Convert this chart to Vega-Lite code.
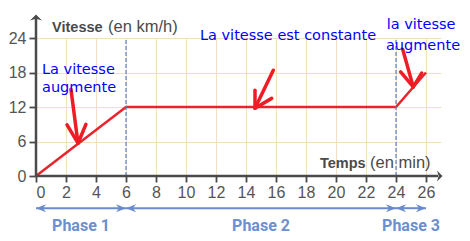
{
  "$schema": "https://vega.github.io/schema/vega-lite/v6.json",
  "width": 405,
  "height": 138,
  "autosize": "none",
  "padding": {"left": 36, "top": 38, "right": 29, "bottom": 65},
  "background": "white",
  "config": {"view": {"stroke": null}},
  "datasets": {
    "speed": [{"t": 0, "v": 0}, {"t": 6, "v": 12}, {"t": 24, "v": 12}, {"t": 26, "v": 18}],
    "bounds": [{"t": 6}, {"t": 24}],
    "arrows": [
      {"x": 2.33, "y": 15.1, "x2": 2.8, "y2": 5.7},
      {"x": 2.07, "y": 8.9, "x2": 2.8, "y2": 5.7},
      {"x": 3.33, "y": 9.0, "x2": 2.8, "y2": 5.7},
      {"x": 15.82, "y": 18.4, "x2": 14.6, "y2": 11.8},
      {"x": 14.6, "y": 14.9, "x2": 14.6, "y2": 11.8},
      {"x": 15.71, "y": 13.5, "x2": 14.6, "y2": 11.8},
      {"x": 24.45, "y": 22.0, "x2": 25.15, "y2": 15.5},
      {"x": 24.31, "y": 18.1, "x2": 25.15, "y2": 15.5},
      {"x": 25.71, "y": 17.9, "x2": 25.15, "y2": 15.5}
    ],
    "notes": [
      {"text": "La vitesse", "x": 0.4, "y": 17.74},
      {"text": "augmente", "x": 0.4, "y": 14.6},
      {"text": "La vitesse est constante", "x": 10.93, "y": 23.6},
      {"text": "la vitesse", "x": 23.38, "y": 25.5},
      {"text": "augmente", "x": 23.33, "y": 21.9}
    ],
    "titles": [
      {"text": "Vitesse", "part": "name", "x": 1.07, "y": 25.04},
      {"text": "(en km/h)", "part": "unit", "x": 4.8, "y": 25.04},
      {"text": "Temps", "part": "name", "x": 18.93, "y": 1.45},
      {"text": "(en min)", "part": "unit", "x": 22.27, "y": 1.45}
    ],
    "phases": [
      {"label": "Phase 1", "start": 0, "end": 6, "mid": 3},
      {"label": "Phase 2", "start": 6, "end": 24, "mid": 15},
      {"label": "Phase 3", "start": 24, "end": 26, "mid": 25}
    ]
  },
  "layer": [
    {
      "data": {"name": "speed"},
      "mark": {"type": "line", "color": "#e6262d", "strokeWidth": 2.5},
      "encoding": {
        "x": {"field": "t", "type": "quantitative", "scale": {"domain": [0, 27]},
          "axis": {"values": [0, 2, 4, 6, 8, 10, 12, 14, 16, 18, 20, 22, 24, 26], "tickCount": 40, "format": "d", "title": null, "domain": false, "labelOverlap": false,
            "grid": true, "gridColor": "#f2e0c0", "gridWidth": 1, "tickColor": "#4a4a4a", "tickSize": 6, "tickWidth": 1.8,
            "labelFont": "Liberation Sans", "labelFontSize": 16, "labelColor": "#555555", "labelPadding": 2}},
        "y": {"field": "v", "type": "quantitative", "scale": {"domain": [0, 24]},
          "axis": {"values": [0, 6, 12, 18, 24], "tickCount": 40, "format": "d", "title": null, "domain": false, "labelOverlap": false,
            "grid": true, "gridColor": "#f2e0c0", "gridWidth": 1, "tickColor": "#4a4a4a", "tickSize": 7, "tickWidth": 1.8,
            "labelFont": "Liberation Sans", "labelFontSize": 16, "labelColor": "#555555", "labelPadding": 3}}
      }
    },
    {
      "data": {"name": "bounds"},
      "mark": {"type": "rule", "color": "#5b7fc4", "strokeWidth": 1.2, "strokeDash": [4, 2]},
      "encoding": {
        "x": {"field": "t", "type": "quantitative", "scale": {"domain": [0, 27]}, "title": null},
        "y": {"datum": 0, "type": "quantitative", "scale": {"domain": [0, 24]}, "title": null},
        "y2": {"datum": 24}
      }
    },
    {
      "data": {"values": [{}]},
      "mark": {"type": "rule", "color": "#4a4a4a", "strokeWidth": 2.5},
      "encoding": {
        "x": {"datum": 0, "type": "quantitative", "scale": {"domain": [0, 27]}, "title": null},
        "x2": {"datum": 26.8},
        "y": {"datum": 0, "type": "quantitative", "scale": {"domain": [0, 24]}, "title": null}
      }
    },
    {
      "data": {"values": [{}]},
      "mark": {"type": "rule", "color": "#4a4a4a", "strokeWidth": 2.5},
      "encoding": {
        "x": {"datum": 0, "type": "quantitative", "scale": {"domain": [0, 27]}, "title": null},
        "y": {"datum": 0, "type": "quantitative", "scale": {"domain": [0, 24]}, "title": null},
        "y2": {"datum": 27.6}
      }
    },
    {
      "data": {"values": [{}]},
      "mark": {"type": "point", "shape": "M0,0L-1,-1L-0.7,0L-1,1Z", "filled": true, "color": "#4a4a4a", "opacity": 1, "size": 121},
      "encoding": {
        "x": {"datum": 27.1, "type": "quantitative", "scale": {"domain": [0, 27]}, "title": null},
        "y": {"datum": 0, "type": "quantitative", "scale": {"domain": [0, 24]}, "title": null}
      }
    },
    {
      "data": {"values": [{}]},
      "mark": {"type": "point", "shape": "M0,0L-1,1L0,0.7L1,1Z", "filled": true, "color": "#4a4a4a", "opacity": 1, "size": 144},
      "encoding": {
        "x": {"datum": 0, "type": "quantitative", "scale": {"domain": [0, 27]}, "title": null},
        "y": {"datum": 28.1, "type": "quantitative", "scale": {"domain": [0, 24]}, "title": null}
      }
    },
    {
      "data": {"name": "arrows"},
      "mark": {"type": "rule", "color": "#ee1c25", "strokeWidth": 3.5, "strokeCap": "round"},
      "encoding": {
        "x": {"field": "x", "type": "quantitative", "scale": {"domain": [0, 27]}, "title": null},
        "y": {"field": "y", "type": "quantitative", "scale": {"domain": [0, 24]}, "title": null},
        "x2": {"field": "x2"},
        "y2": {"field": "y2"}
      }
    },
    {
      "data": {"name": "notes"},
      "mark": {"type": "text", "font": "DejaVu Sans", "fontSize": 14.5, "color": "#0000ff", "align": "left", "baseline": "alphabetic"},
      "encoding": {
        "x": {"field": "x", "type": "quantitative", "scale": {"domain": [0, 27]}, "title": null},
        "y": {"field": "y", "type": "quantitative", "scale": {"domain": [0, 24]}, "title": null},
        "text": {"field": "text"}
      }
    },
    {
      "data": {"name": "titles"},
      "transform": [{"filter": "datum.part === 'name'"}],
      "mark": {"type": "text", "font": "Liberation Sans", "fontSize": 14.5, "fontWeight": "bold", "color": "#4a4a4a", "align": "left", "baseline": "alphabetic"},
      "encoding": {
        "x": {"field": "x", "type": "quantitative", "scale": {"domain": [0, 27]}, "title": null},
        "y": {"field": "y", "type": "quantitative", "scale": {"domain": [0, 24]}, "title": null},
        "text": {"field": "text"}
      }
    },
    {
      "data": {"name": "titles"},
      "transform": [{"filter": "datum.part === 'unit'"}],
      "mark": {"type": "text", "font": "Liberation Sans", "fontSize": 16.5, "color": "#4a4a4a", "align": "left", "baseline": "alphabetic"},
      "encoding": {
        "x": {"field": "x", "type": "quantitative", "scale": {"domain": [0, 27]}, "title": null},
        "y": {"field": "y", "type": "quantitative", "scale": {"domain": [0, 24]}, "title": null},
        "text": {"field": "text"}
      }
    },
    {
      "data": {"name": "phases"},
      "mark": {"type": "rule", "color": "#6a8ccc", "strokeWidth": 2},
      "encoding": {
        "x": {"field": "start", "type": "quantitative", "scale": {"domain": [0, 27]}, "title": null},
        "x2": {"field": "end"},
        "y": {"datum": -5.6, "type": "quantitative", "scale": {"domain": [0, 24]}, "title": null}
      }
    },
    {
      "data": {"name": "phases"},
      "mark": {"type": "point", "shape": "M0,0L1,-0.4L0.7,0L1,0.4Z", "filled": true, "color": "#6a8ccc", "opacity": 1, "size": 400},
      "encoding": {
        "x": {"field": "start", "type": "quantitative", "scale": {"domain": [0, 27]}, "title": null},
        "y": {"datum": -5.6, "type": "quantitative", "scale": {"domain": [0, 24]}, "title": null}
      }
    },
    {
      "data": {"name": "phases"},
      "mark": {"type": "point", "shape": "M0,0L-1,-0.4L-0.7,0L-1,0.4Z", "filled": true, "color": "#6a8ccc", "opacity": 1, "size": 400},
      "encoding": {
        "x": {"field": "end", "type": "quantitative", "scale": {"domain": [0, 27]}, "title": null},
        "y": {"datum": -5.6, "type": "quantitative", "scale": {"domain": [0, 24]}, "title": null}
      }
    },
    {
      "data": {"name": "phases"},
      "mark": {"type": "text", "font": "Roboto", "fontSize": 16, "fontWeight": "bold", "color": "#6b8fcf", "align": "center", "baseline": "alphabetic"},
      "encoding": {
        "x": {"field": "mid", "type": "quantitative", "scale": {"domain": [0, 27]}, "title": null},
        "y": {"datum": -9.6, "type": "quantitative", "scale": {"domain": [0, 24]}, "title": null},
        "text": {"field": "label"}
      }
    }
  ]
}
